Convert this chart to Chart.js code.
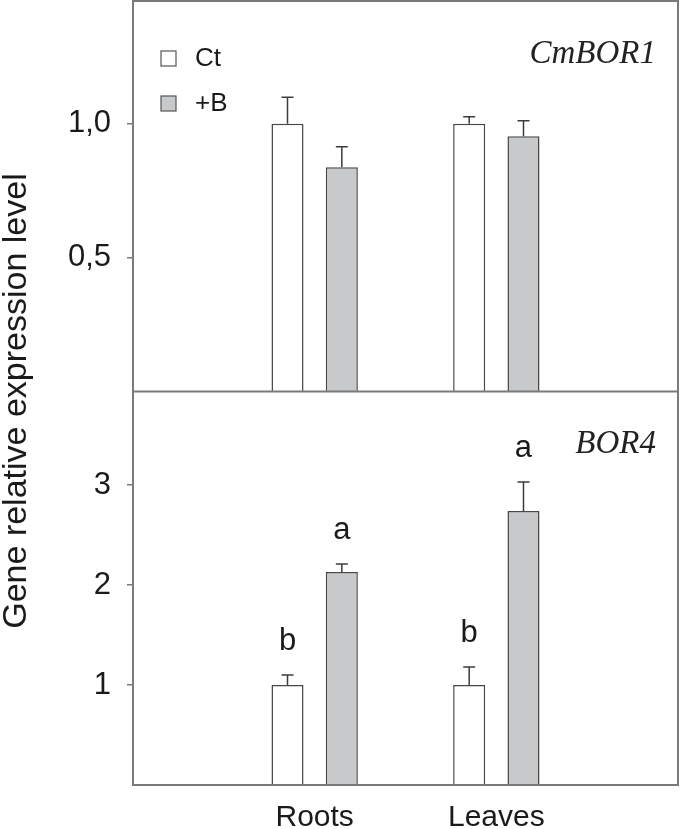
<!DOCTYPE html>
<html>
<head>
<meta charset="utf-8">
<script src="https://cdn.jsdelivr.net/npm/chart.js@4.4.1/dist/chart.umd.min.js"></script>
<style>
  body { margin: 0; background: #fff; }
  canvas { display: block; }
</style>
</head>
<body>
<canvas id="myChart" width="680" height="829"></canvas>
<script>
// data
const categories = ['Roots', 'Leaves']
const seriesNames = ['Ct', '+B']
const genes = ['CmBOR1', 'BOR4']

const ctTop = [1.0, 1.0]
const ctTopErr = [0.099, 0.026]
const bTop = [0.837, 0.953]
const bTopErr = [0.077, 0.058]

const ctBot = [1.0, 1.0]
const ctBotErr = [0.10, 0.18]
const bBot = [2.13, 2.74]
const bBotErr = [0.08, 0.29]

const ctBotLetters = ['b', 'b']
const bBotLetters = ['a', 'a']

const topTicks = [0.5, 1.0]
const botTicks = [1, 2, 3]

const grayFill = '#c8c9cb'
const barLine = '#474747'
const frameColor = '#7a7a7a'
const textColor = '#1a1a1a'

Chart.defaults.font.family = "'Liberation Sans', Arial, sans-serif"
Chart.defaults.color = textColor

// empty slot on each side so Roots / Leaves sit at 1/3 and 2/3 of the width
const pad = arr => [null, ...arr, null]
const labels = ['', ...categories, '']

const makeSet = (name, values, errs, axis, stack, fill, letters) => ({
    label: name,
    data: pad(values),
    err: pad(errs),
    letters: letters ? pad(letters) : null,
    yAxisID: axis,
    stack: stack,
    backgroundColor: fill,
    borderColor: barLine,
    borderWidth: 1.5,
    categoryPercentage: 0.598,
    barPercentage: 0.59
})

const noPad = s => {
    s.paddingTop = 0
    s.paddingBottom = 0
    s.paddingLeft = 0
    s.paddingRight = 0
}

const extras = {
    id: 'extras',
    afterDatasetsDraw(chart) {
        const ctx = chart.ctx
        chart.data.datasets.forEach((ds, di) => {
            const meta = chart.getDatasetMeta(di)
            const scale = chart.scales[ds.yAxisID]
            meta.data.forEach((bar, i) => {
                const v = ds.data[i]
                if (v == null) return
                const top = scale.getPixelForValue(v + ds.err[i])
                ctx.save()
                ctx.strokeStyle = '#3c3c3c'
                ctx.lineWidth = 1.5
                ctx.beginPath()
                ctx.moveTo(bar.x, bar.y)
                ctx.lineTo(bar.x, top)
                ctx.moveTo(bar.x - 6, top)
                ctx.lineTo(bar.x + 6, top)
                ctx.stroke()
                if (ds.letters) {
                    ctx.fillStyle = textColor
                    ctx.font = "31px 'Liberation Sans', Arial"
                    ctx.textAlign = 'center'
                    ctx.textBaseline = 'alphabetic'
                    ctx.fillText(ds.letters[i], bar.x, top - 25)
                }
                ctx.restore()
            })
        })
    },
    afterDraw(chart) {
        const ctx = chart.ctx
        const area = chart.chartArea
        const yTop = chart.scales.yTop
        const yBot = chart.scales.yBot
        ctx.save()

        // frame + divider between the panels
        ctx.strokeStyle = frameColor
        ctx.lineWidth = 2
        ctx.strokeRect(area.left, area.top, area.right - area.left, area.bottom - area.top)
        ctx.beginPath()
        ctx.moveTo(area.left, yTop.bottom)
        ctx.lineTo(area.right, yTop.bottom)
        ctx.stroke()

        // legend
        ctx.font = "26px 'Liberation Sans', Arial"
        ctx.textAlign = 'left'
        ctx.textBaseline = 'middle'
        const fills = ['#ffffff', grayFill]
        seriesNames.forEach((name, k) => {
            const y = area.top + 50 + k * 45
            ctx.fillStyle = fills[k]
            ctx.fillRect(161, y, 15, 15)
            ctx.strokeStyle = '#555'
            ctx.lineWidth = 1.2
            ctx.strokeRect(161, y, 15, 15)
            ctx.fillStyle = textColor
            ctx.fillText(name, 195, y + 8)
        })

        // gene names
        ctx.font = "italic 33px 'Liberation Serif', 'Times New Roman', serif"
        ctx.textAlign = 'right'
        ctx.textBaseline = 'alphabetic'
        ctx.fillStyle = '#222'
        ctx.fillText(genes[0], area.right - 22, yTop.top + 62)
        ctx.fillText(genes[1], area.right - 22, yBot.top + 61)

        // y axis title, shared by both panels
        ctx.translate(26, (area.top + area.bottom) / 2 + 8)
        ctx.rotate(-Math.PI / 2)
        ctx.font = "34px 'Liberation Sans', Arial"
        ctx.textAlign = 'center'
        ctx.fillStyle = textColor
        ctx.fillText('Gene relative expression level', 0, 0)
        ctx.restore()
    }
}

const yCommon = {
    type: 'linear',
    position: 'left',
    stack: 'panels',
    stacked: false,
    min: 0,
    border: { display: false },
    grid: { drawOnChartArea: false, drawTicks: true, tickLength: 6, color: frameColor, lineWidth: 1.5 },
    afterFit: s => { s.width = 133; noPad(s) }
}

const ctx = document.getElementById('myChart')
new Chart(ctx, {
    type: 'bar',
    data: {
        labels: labels,
        datasets: [
            makeSet(seriesNames[0], ctTop, ctTopErr, 'yTop', 'ct', '#ffffff'),
            makeSet(seriesNames[1], bTop, bTopErr, 'yTop', 'b', grayFill),
            makeSet(seriesNames[0], ctBot, ctBotErr, 'yBot', 'ct', '#ffffff', ctBotLetters),
            makeSet(seriesNames[1], bBot, bBotErr, 'yBot', 'b', grayFill, bBotLetters)
        ]
    },
    options: {
        responsive: false,
        animation: false,
        layout: { padding: { top: 1, right: 2, left: 0, bottom: 0 } },
        plugins: {
            legend: { display: false },
            tooltip: { enabled: false }
        },
        scales: {
            x: {
                offset: false,
                grid: { display: false },
                border: { display: false },
                ticks: { font: { size: 30 }, color: textColor, padding: 7, maxRotation: 0, autoSkip: false },
                afterFit: s => { s.height = 44; noPad(s) }
            },
            yBot: {
                ...yCommon,
                stackWeight: 393.5,
                max: 3.935,
                ticks: { font: { size: 31 }, color: textColor, padding: 16, callback: v => String(v) },
                afterBuildTicks: s => { s.ticks = botTicks.map(v => ({ value: v })) }
            },
            yTop: {
                ...yCommon,
                stackWeight: 390.5,
                max: 1.458,
                ticks: { font: { size: 31 }, color: textColor, padding: 16, callback: v => v.toFixed(1).replace('.', ',') },
                afterBuildTicks: s => { s.ticks = topTicks.map(v => ({ value: v })) }
            }
        }
    },
    plugins: [extras]
})
</script>
</body>
</html>
